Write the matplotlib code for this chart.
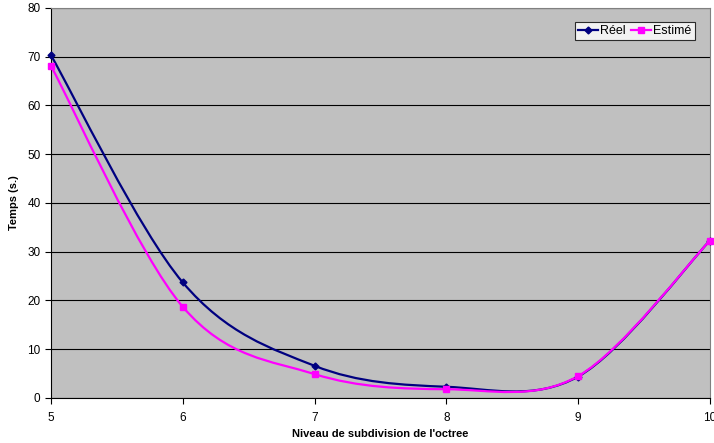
import numpy as np
import matplotlib
matplotlib.use('Agg')
import matplotlib.pyplot as plt
from matplotlib.path import Path
from matplotlib.patches import PathPatch
from matplotlib.lines import Line2D

plt.rcParams['font.family'] = ['Liberation Sans', 'DejaVu Sans']

niveaux = [5, 6, 7, 8, 9, 10]
reel = [70.3, 23.7, 6.6, 2.3, 4.4, 32.3]
estime = [68.1, 18.7, 4.9, 1.8, 4.5, 32.3]


def smooth_path(x, y):
    # bezier smoothing like the spreadsheet "smoothed line" option
    pts = np.column_stack([x, y]).astype(float)
    n = len(pts)
    verts = [pts[0]]
    codes = [Path.MOVETO]
    for i in range(n - 1):
        p0 = pts[i - 1] if i > 0 else pts[i]
        p1 = pts[i]
        p2 = pts[i + 1]
        p3 = pts[i + 2] if i + 2 < n else pts[i + 1]
        c1 = p1 + (p2 - p0) / 6.0
        c2 = p2 - (p3 - p1) / 6.0
        verts += [c1, c2, p2]
        codes += [Path.CURVE4] * 3
    return Path(verts, codes)


fig = plt.figure(figsize=(7.14, 4.43), dpi=100)
ax = fig.add_axes([0.0714, 0.1016, 0.923, 0.8804])
ax.set_facecolor('#c0c0c0')

series = [
    (reel, '#000080', 'D', 3.5, 'Réel'),
    (estime, '#ff00ff', 's', 4.5, 'Estimé'),
]
handles = []
for vals, col, mk, ms, lab in series:
    ax.add_patch(PathPatch(smooth_path(niveaux, vals), facecolor='none',
                           edgecolor=col, lw=1.6, zorder=3))
    ax.plot(niveaux, vals, linestyle='none', marker=mk, ms=ms, color=col,
            zorder=4, clip_on=False)
    handles.append(Line2D([], [], color=col, lw=1.6, marker=mk, ms=ms, label=lab))

ax.set_xlim(5, 10)
ax.set_ylim(0, 80)
ax.set_xticks(niveaux)
ax.set_yticks(range(0, 81, 10))
ax.yaxis.grid(True, color='black', lw=0.8)
ax.set_axisbelow(True)

for s in ['top', 'right']:
    ax.spines[s].set_color('#808080')
for s in ['left', 'bottom']:
    ax.spines[s].set_color('black')
ax.tick_params(labelsize=8.5, length=4, direction='out', width=0.8)
ax.tick_params(axis='x', pad=6)

ax.set_xlabel("Niveau de subdivision de l'octree", fontsize=8, fontweight='bold', labelpad=4)
ax.set_ylabel('Temps (s.)', fontsize=8, fontweight='bold', labelpad=6)

leg = ax.legend(handles=handles, loc='upper right', bbox_to_anchor=(0.977, 0.964),
                fontsize=9, frameon=True, fancybox=False, ncol=2,
                handlelength=1.6, handletextpad=0.2, columnspacing=0.4,
                borderpad=0.25, borderaxespad=0)
leg.get_frame().set_edgecolor('black')
leg.get_frame().set_facecolor('white')
leg.get_frame().set_linewidth(0.8)

fig.savefig('out.png', dpi=100)
